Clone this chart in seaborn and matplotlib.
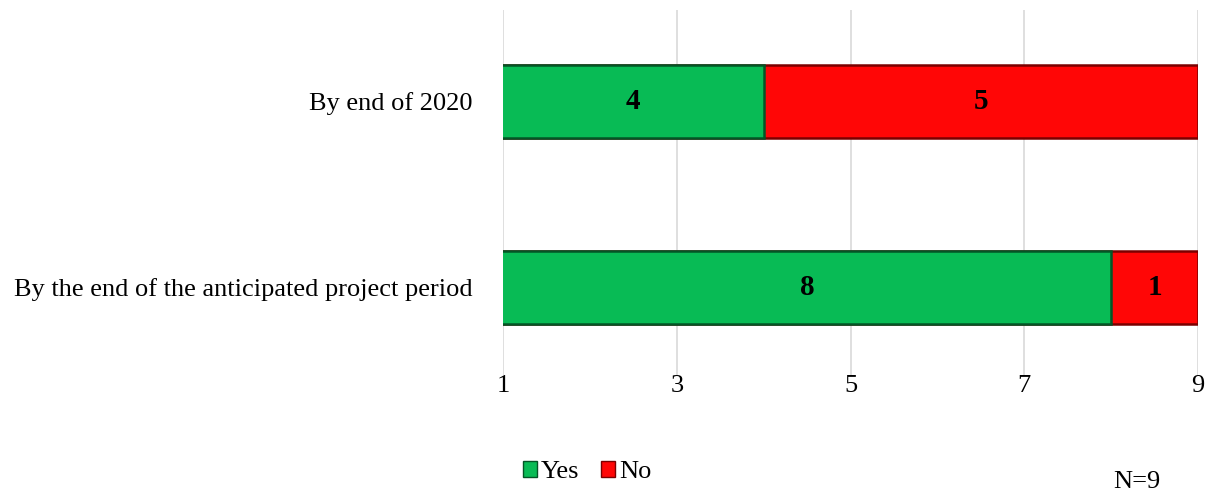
import matplotlib
matplotlib.use("Agg")
import matplotlib.pyplot as plt
import seaborn as sns
import pandas as pd
from matplotlib.patches import Patch

categories = ["By end of 2020", "By the end of the anticipated project period"]
yes_vals = [4, 8]
no_vals = [5, 1]
ticks = [1, 3, 5, 7, 9]

sns.set_theme(style="white")
plt.rcParams['font.family'] = ['Liberation Serif', 'DejaVu Serif']
plt.rcParams['text.color'] = 'black'
plt.rcParams['xtick.color'] = 'black'
plt.rcParams['ytick.color'] = 'black'

df = pd.DataFrame({"cat": categories, "Yes": yes_vals, "No": no_vals})
df["Total"] = df["Yes"] + df["No"]

fig = plt.figure(figsize=(12.08, 4.92), dpi=100)
ax = fig.add_axes([503/1208, 1-375/492, (1198-503)/1208, 365/492])

green = "#08BB55"
red = "#FF0606"
sns.barplot(data=df, y="cat", x="Total", color=red, orient="h", ax=ax,
            width=0.39, edgecolor="#7a0000", linewidth=1.8, saturation=1, zorder=2)
sns.barplot(data=df, y="cat", x="Yes", color=green, orient="h", ax=ax,
            width=0.39, edgecolor="#035526", linewidth=1.8, saturation=1, zorder=3)

for i, (y_, n_) in enumerate(zip(yes_vals, no_vals)):
    ax.text((1 + y_) / 2, i, str(y_), ha="center", va="center",
            fontsize=21, fontweight="bold", color="black", zorder=5)
    ax.text(y_ + n_ / 2, i, str(n_), ha="center", va="center",
            fontsize=21, fontweight="bold", color="black", zorder=5)

ax.set_xlim(1, 9)
ax.set_ylim(1.47, -0.49)
ax.set_xticks(ticks)
ax.set_xticklabels([str(t) for t in ticks], fontsize=19)
ax.tick_params(axis="y", labelsize=19, length=0, pad=22)
ax.tick_params(axis="x", length=0, pad=0)
ax.set_xlabel("")
ax.set_ylabel("")
ax.grid(axis="x", color="#d9d9d9", linewidth=1.2, zorder=0)
ax.set_axisbelow(True)
for s in ax.spines.values():
    s.set_visible(False)

handles = [Patch(facecolor=green, edgecolor="#035526", label="Yes"),
           Patch(facecolor=red, edgecolor="#7a0000", label="No")]
fig.legend(handles=handles, loc="center", bbox_to_anchor=(587/1208, 1-472/492), ncol=2,
           frameon=False, fontsize=19, handlelength=0.55, handleheight=0.55,
           handletextpad=0.15, columnspacing=0.8)
fig.text(1137/1208, 1-482/492, "N=9", ha="center", va="center", fontsize=19)

fig.savefig("out.png", dpi=100)
